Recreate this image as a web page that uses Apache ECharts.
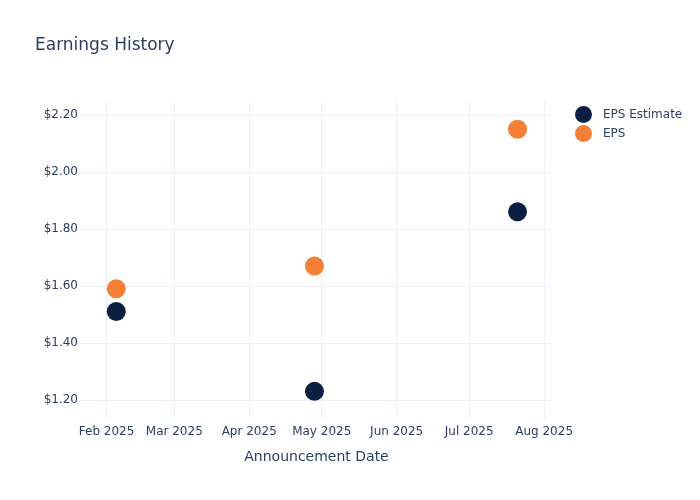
<!DOCTYPE html>
<html>
<head>
<meta charset="utf-8">
<script src="https://cdn.jsdelivr.net/npm/echarts@6/dist/echarts.min.js"></script>
<style>html,body{margin:0;padding:0;background:#fff}#c{width:700px;height:500px}</style>
</head>
<body>
<div id="c"></div>
<script>
const dates = ['2025-02-05', '2025-04-28', '2025-07-21'];
const epsEstimate = [1.51, 1.23, 1.86];
const eps = [1.59, 1.67, 2.15];
const monthTicks = ['2025-02-01','2025-03-01','2025-04-01','2025-05-01','2025-06-01','2025-07-01','2025-08-01'];
const yTicks = [1.2, 1.4, 1.6, 1.8, 2.0, 2.2];
const monthNames = ['Jan','Feb','Mar','Apr','May','Jun','Jul','Aug','Sep','Oct','Nov','Dec'];

function ts(s){ const p = s.split('-').map(Number); return Date.UTC(p[0], p[1]-1, p[2]); }
const txt = '#2a3f5f';
const font = 'DejaVu Sans';
const chart = echarts.init(document.getElementById('c'));
chart.setOption({
  animation: false,
  textStyle: { fontFamily: font },
  title: { text: 'Earnings History', left: 30, top: 32, textStyle: { fontFamily: font, fontSize: 17, fontWeight: 'normal', color: txt } },
  legend: {
    orient: 'vertical', left: 570, top: 101, itemGap: 2, icon: 'circle', itemWidth: 17, itemHeight: 17,
    textStyle: { fontFamily: font, fontSize: 12, color: txt, padding: [0, 0, 0, 6] },
    data: ['EPS Estimate', 'EPS']
  },
  grid: { left: 80, right: 147, top: 101, bottom: 81, containLabel: false },
  xAxis: {
    type: 'value',
    min: ts('2025-01-21'), max: ts('2025-08-04') + 16*3600*1000,
    name: 'Announcement Date', nameLocation: 'middle', nameGap: 31,
    nameTextStyle: { fontFamily: font, fontSize: 14, color: txt },
    axisLine: { show: false },
    axisTick: { show: false, customValues: monthTicks.map(ts) },
    axisLabel: { customValues: monthTicks.map(ts), color: txt, fontFamily: font, fontSize: 12, margin: 7,
      formatter: v => { const d = new Date(v); return monthNames[d.getUTCMonth()] + ' ' + d.getUTCFullYear(); } },
    splitLine: { show: true, lineStyle: { color: '#ebf0f8', width: 1 } }
  },
  yAxis: {
    type: 'value', min: 1.133, max: 2.249,
    axisLine: { show: false },
    axisTick: { show: false, customValues: yTicks },
    axisLabel: { customValues: yTicks, color: txt, fontFamily: font, fontSize: 12, margin: 2,
      formatter: v => '$' + v.toFixed(2) },
    splitLine: { show: true, lineStyle: { color: '#ebf0f8', width: 1 } }
  },
  series: [
    { name: 'EPS Estimate', type: 'scatter', symbolSize: 19, itemStyle: { color: '#0c1f40', opacity: 1 },
      data: dates.map((d, i) => [ts(d), epsEstimate[i]]) },
    { name: 'EPS', type: 'scatter', symbolSize: 19, itemStyle: { color: '#f47f35', opacity: 1 },
      data: dates.map((d, i) => [ts(d), eps[i]]) }
  ]
});
</script>
</body>
</html>
